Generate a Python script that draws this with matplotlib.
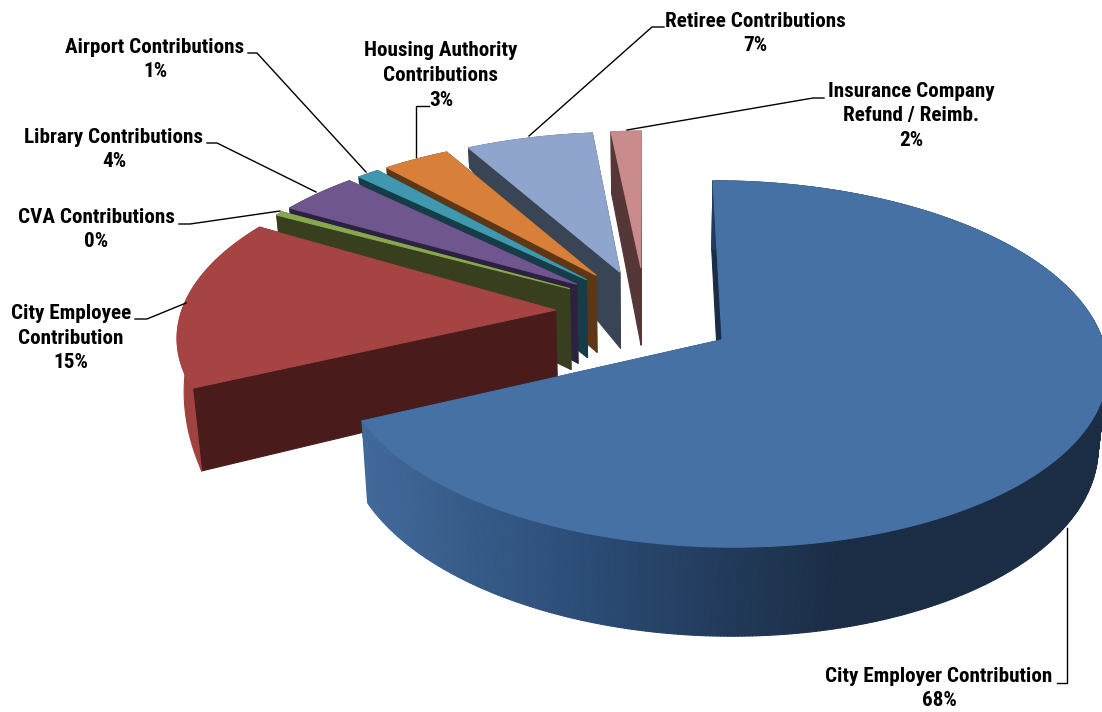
import numpy as np
import matplotlib
matplotlib.use("Agg")
import matplotlib.pyplot as plt
from matplotlib.colors import to_rgb

# ---- data (share of total, in drawing order clockwise from 12 o'clock)
categories = ["City Employer Contribution", "City Employee Contribution", "CVA Contributions",
              "Library Contributions", "Airport Contributions", "Housing Authority Contributions",
              "Retiree Contributions", "Insurance Company Refund / Reimb."]
values = [68.0, 15.5, 0.4, 3.9, 1.1, 3.3, 6.3, 1.5]

# ---- styles
top_colors = ["#4571a5", "#a54442", "#87a84e", "#70568f", "#3f98b0", "#d8803a", "#8fa5cd", "#c98b8b"]
wall_colors = ["#1b2d45", "#4a1b1b", "#373f1e", "#2c2240", "#163c47", "#5e3716", "#394555", "#553737"]
arc_colors = ["#1b2d45", "#a04240", "#373f1e", "#2c2240", "#163c47", "#5e3716", "#394555", "#553737"]
corner_start = [1.0, 1.03, 0.30, 0.08, 0.10, 0.12, 0.30, 0.95]   # wall height at outer corner (fraction)
corner_end = [0.2, 0.10, 0.10, 0.05, 0.05, 0.05, 0.10, 0.90]
apex_frac = [1.0, 1.0, 1.08, 1.06, 1.05, 1.04, 1.03, 1.05]       # wall height at the tip (fraction)
apex_dy = [0, 0, -7, -7, -7, -8, -6, -9]    # screen nudge of the tip of each slice
slice_dy = [0, -5, 0, 0, 0, 0, 0, 0]        # screen nudge of a whole slice

# ---- projection of the tilted disc
CX, CY = 645.0, 317.0
R, K, P, D0, EXPLODE = 374.0, 174.0, 0.13, 76.0, 0.24
BOTTOM_SHRINK = 0.98


def proj(gx, gy, frac=0.0):
    s = 1.0 / (1.0 + P * gy)
    x = CX + R * gx * s
    y = CY - K * gy * s
    if np.ndim(frac) or frac:
        x = CX + (x - CX) * (1 - (1 - BOTTOM_SHRINK) * np.minimum(frac, 1))
        y = y + D0 * s * frac
    return x, y


plt.rcParams["font.family"] = ["Roboto Condensed", "Archivo Narrow", "Roboto", "DejaVu Sans"]
fig = plt.figure(figsize=(11.02, 7.12), dpi=100, facecolor="white")
ax = fig.add_axes([0, 0, 1, 1])
ax.set_xlim(0, 1102)
ax.set_ylim(712, 0)
ax.axis("off")

shares = np.array(values) / np.sum(values)
edges = np.pi / 2 - 2 * np.pi * np.concatenate([[0], np.cumsum(shares)])
mids = (edges[:-1] + edges[1:]) / 2
apexes = [(EXPLODE * np.cos(m), EXPLODE * np.sin(m)) for m in mids]
order = sorted(range(len(values)), key=lambda i: -apexes[i][1])
order.remove(0)
order.append(0)
# City Employee sits in front of its neighbours
order.remove(1)
order.insert(len(order) - 1, 1)


def fill(xs, ys, c, z):
    ax.fill(xs, ys, color=c, lw=0.8, zorder=z, joinstyle="round")


z = 1
for i in order:
    a0, a1 = edges[i], edges[i + 1]
    ax0, ay0 = apexes[i]
    th = np.linspace(a0, a1, max(12, int(abs(a1 - a0) * 120)))
    gx = ax0 + np.cos(th)
    gy = ay0 + np.sin(th)
    fr = np.linspace(corner_start[i], corner_end[i], len(th))
    dy = slice_dy[i]

    # straight cut walls, far one first, each tapering from apex height to corner height
    for t_idx in (-1, 0):
        cg = (gx[t_idx], gy[t_idx])
        tx, ty = [], []
        bx, by = [], []
        for u in np.linspace(0, 1, 12):
            qx = ax0 + (cg[0] - ax0) * u
            qy = ay0 + (cg[1] - ay0) * u
            f = apex_frac[i] + (fr[t_idx] - apex_frac[i]) * u
            a, b = proj(qx, qy)
            c, d = proj(qx, qy, f)
            nudge = dy + apex_dy[i] * (1 - u)
            tx.append(a); ty.append(b + nudge); bx.append(c); by.append(d + nudge)
        fill(tx + bx[::-1], ty + by[::-1], wall_colors[i], z)
        z += 1

    # outer wall
    if i == 0:
        left = np.array(to_rgb("#41699a"))
        mid = np.array(to_rgb("#2a4a73"))
        right = np.array(to_rgb("#1b2d45"))
        for j in range(len(th) - 1):
            x0, y0 = proj(gx[j], gy[j])
            x1, y1 = proj(gx[j + 1], gy[j + 1])
            x2, y2 = proj(gx[j + 1], gy[j + 1], 1)
            x3, y3 = proj(gx[j], gy[j], 1)
            t = (x0 - 363) / (840 - 363)
            t = min(max(t, 0), 1)
            col = left + (mid - left) * t * 2 if t < 0.5 else mid + (right - mid) * (t - 0.5) * 2
            fill([x0, x1, x2, x3], [y0, y1, y2, y3], tuple(col), z)
        z += 1
    else:
        x0, y0 = proj(gx, gy)
        x1, y1 = proj(gx, gy, fr)
        fill(np.r_[x0, x1[::-1]], np.r_[y0 + dy, y1[::-1] + dy], arc_colors[i], z)
        z += 1

    # top surface
    tx, ty = proj(gx, gy)
    ax_s, ay_s = proj(ax0, ay0)
    fill(np.r_[ax_s, tx], np.r_[ay_s + dy + apex_dy[i], ty + dy], top_colors[i], z)
    z += 1

# ---- labels and leader lines
labels = [
    ("City Employer Contribution\n68%", 939, 688.5, [(1057, 683), (1067, 683), (1067, 528)]),
    ("City Employee\nContribution\n15%", 71, 338, [(135, 319), (147, 319), (186, 303)]),
    ("CVA Contributions\n0%", 96, 229.5, [(179, 224), (190, 224), (280, 211)]),
    ("Library Contributions\n4%", 114, 149.5, [(207, 143), (217, 143), (316, 192)]),
    ("Airport Contributions\n1%", 155, 59.5, [(248, 53), (257, 53), (366, 172)]),
    ("Housing Authority\nContributions\n3%", 441, 75.5, [(429, 106), (416, 106), (416, 157)]),
    ("Retiree Contributions\n7%", 755, 33.5, [(664, 27), (652, 27), (529, 136)]),
    ("Insurance Company\nRefund / Reimb.\n2%", 911, 116, [(824, 98), (813, 98), (627, 130)]),
]
for text, x, y, line in labels:
    ax.text(x, y, text, ha="center", va="center", fontsize=15.2, fontweight="bold",
            color="black", linespacing=1.38, zorder=200)
    lx, ly = zip(*line)
    ax.plot(lx, ly, color="black", lw=1.0, zorder=150, solid_joinstyle="miter")

fig.savefig("out.png", dpi=100)
